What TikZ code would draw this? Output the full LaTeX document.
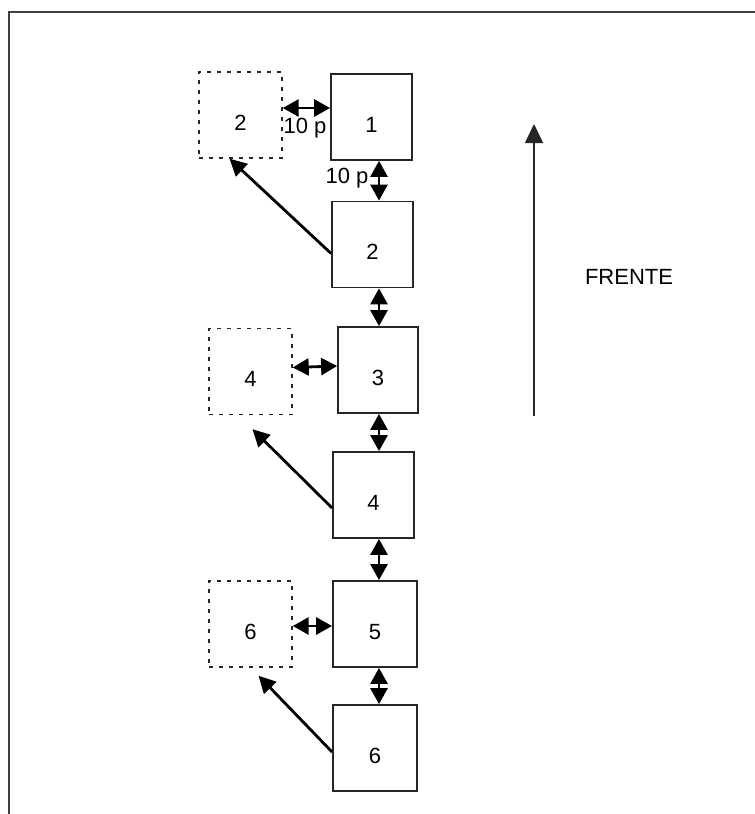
\documentclass[tikz,border=0pt]{standalone}
\usepackage{fontspec}
\setmainfont{Liberation Sans}
\usetikzlibrary{arrows.meta,positioning,calc}
\tikzset{
    every node/.style={font=\fontsize{22}{26}\selectfont},
    seat/.style={rectangle,draw=black!85,line width=1.8pt,minimum width=81pt,minimum height=86pt,inner sep=0pt,text height=30pt,text depth=0pt},
    ghost/.style={seat,draw=black!85,line width=1.4pt,dash pattern=on 4pt off 6pt,minimum width=83pt},
    swap/.style={line width=2.8pt,{Triangle[length=16pt,width=17pt]}-{Triangle[length=16pt,width=17pt]}},
    move/.style={line width=2.8pt,-{Triangle[length=17pt,width=17pt]}},
    ahead/.style={line width=1.5pt,draw=black!85,-{Triangle[length=19pt,width=18pt]}},
    frame/.style={line width=2pt,draw=black!75}
}

\begin{document}
\begin{tikzpicture}[x=1pt,y=-1pt]
\useasboundingbox (0,0) rectangle (755,814);
\draw[frame] (755,12) -- (9,12) -- (9,814);

% column of seats
\node[seat] (b1) at (371.5,117) {1};
\node[seat] (b2) at (372.5,244.5) {2};
\node[seat,minimum width=80pt] (b3) at (378,370) {3};
\node[seat] (b4) at (373.5,495) {4};
\node[seat,minimum width=84pt] (b5) at (375,624) {5};
\node[seat,minimum width=84pt] (b6) at (375,748) {6};

% moved seats
\node[ghost] (d2) at (240.5,115) {2};
\node[ghost] (d4) at (250.5,371.5) {4};
\node[ghost] (d6) at (250.5,624) {6};

\coordinate (spine) at (379,0);
\draw[swap] (b1.south -| spine) -- (b2.north -| spine);
\draw[swap] (b2.south -| spine) -- (b3.north -| spine);
\draw[swap] (b3.south -| spine) -- (b4.north -| spine);
\draw[swap] (b4.south -| spine) -- (b5.north -| spine);
\draw[swap] (b5.south -| spine) -- (b6.north -| spine);

\draw[swap] ([yshift=7pt]d2.east) -- ([yshift=9pt]b1.west);
\draw[swap] ([yshift=4pt]d4.east) -- ([yshift=4pt]b3.west);
\draw[swap] ([yshift=-2pt]d6.east) -- ([yshift=-2pt]b5.west);

\draw[move] ([yshift=-9pt]b2.west) -- ([xshift=-11pt]d2.south);
\draw[move] ([yshift=-13pt]b4.west) -- ([xshift=2pt,yshift=-14pt]d4.south);
\draw[move] ([yshift=-4pt]b6.west) -- ([xshift=8pt,yshift=-8pt]d6.south);

\node[anchor=base] (g1) at (305,133) {10 p};
\node[anchor=base] (g2) at (347,183) {10 p};

% direction of travel
\coordinate (rear) at (534,416);
\coordinate (front) at (534,124);
\draw[ahead] (rear) -- (front);
\node (dir) at (629,277) {FRENTE};
\end{tikzpicture}
\end{document}
